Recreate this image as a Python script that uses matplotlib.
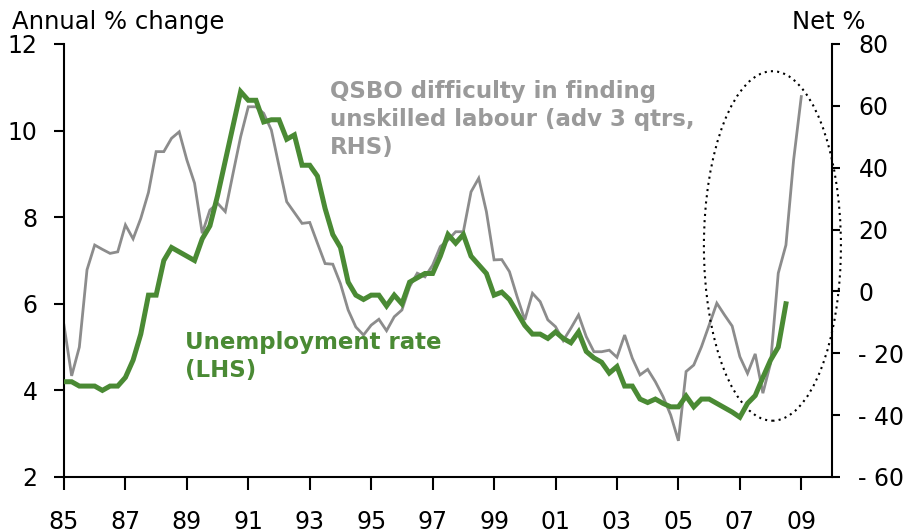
import numpy as np
import matplotlib.pyplot as plt
from matplotlib.patches import Ellipse

# quarterly data starting 1985 Q1
start_year = 1985.0

# unemployment rate, % (LHS)
unemp = [
    4.2, 4.2, 4.1, 4.1, 4.1, 4.0, 4.1, 4.1,
    4.3, 4.7, 5.3, 6.2, 6.2, 7.0, 7.3, 7.2,
    7.1, 7.0, 7.5, 7.8, 8.5, 9.3, 10.1, 10.9,
    10.7, 10.7, 10.2, 10.25, 10.25, 9.8, 9.9, 9.2,
    9.2, 8.95, 8.2, 7.6, 7.3, 6.5, 6.2, 6.1,
    6.2, 6.2, 5.95, 6.2, 6.0, 6.5, 6.6, 6.7,
    6.7, 7.1, 7.6, 7.4, 7.6, 7.1, 6.9, 6.7,
    6.2, 6.27, 6.1, 5.8, 5.5, 5.3, 5.3, 5.2,
    5.35, 5.2, 5.1, 5.35, 4.9, 4.75, 4.65, 4.4,
    4.55, 4.1, 4.1, 3.8, 3.72, 3.8, 3.7, 3.62,
    3.62, 3.87, 3.62, 3.8, 3.8, 3.7, 3.6, 3.5,
    3.38, 3.7, 3.88, 4.3, 4.7, 5.0, 6.0,
]

# QSBO difficulty in finding unskilled labour, net % (RHS, advanced 3 qtrs)
qsbo = [
    -10.9, -27.3, -18, 7, 15, 13.6, 12.3, 12.8,
    21.5, 17, 23.6, 32, 45.2, 45.2, 49.5, 51.6,
    42.5, 35, 18.8, 26.3, 28.5, 25.8, 38, 50,
    59.7, 59.7, 57.6, 52.2, 40.5, 29, 25.5, 22,
    22.3, 15.6, 9, 8.8, 2.5, -6, -11.5, -14.1,
    -10.9, -9, -12.7, -8.2, -6, 1.5, 5.9, 4.7,
    8.5, 14.5, 16.6, 19.3, 19.3, 32.2, 36.6, 25.8,
    10.2, 10.3, 6.4, -1.7, -9.2, -0.6, -3.3, -9.2,
    -11.4, -15.9, -11.9, -7.6, -14.6, -19.5, -19.5, -19.0,
    -21.3, -14.1, -21.6, -27, -25.2, -29.2, -34, -40,
    -48.3, -25.9, -23.8, -17.9, -10.9, -3.8, -7.6, -11.2,
    -21.1, -26.5, -20.2, -32.9, -23.2, 5.9, 15.0, 42.5,
    63.0,
]

xtick_years = [1985, 1987, 1989, 1991, 1993, 1995, 1997, 1999, 2001, 2003, 2005, 2007, 2009]
left_ticks = [2, 4, 6, 8, 10, 12]
right_ticks = [-60, -40, -20, 0, 20, 40, 60, 80]

green = '#4a8a34'
grey = '#8c8c8c'
grey_text = '#9a9a9a'

plt.rcParams['font.family'] = 'DejaVu Sans'

fig = plt.figure(figsize=(9.1, 5.3), dpi=100)
ax1 = fig.add_axes([0.0703, 0.1, 0.844, 0.817])
ax2 = ax1.twinx()

x_u = start_year + np.arange(len(unemp)) / 4
x_q = start_year + np.arange(len(qsbo)) / 4

ax2.plot(x_q, qsbo, color=grey, lw=2.0, solid_joinstyle='miter', zorder=2)
ax1.plot(x_u, unemp, color=green, lw=3.6, solid_joinstyle='miter', zorder=3)
ax1.set_zorder(ax2.get_zorder() + 1)
ax1.patch.set_visible(False)

ax1.set_xlim(1985, 2010)
ax1.set_ylim(2, 12)
ax2.set_ylim(-60, 80)

ax1.set_xticks(xtick_years)
ax1.set_xticklabels([str(y)[2:] for y in xtick_years])
ax1.set_yticks(left_ticks)
ax2.set_yticks(right_ticks)
ax2.set_yticklabels([('- %d' % -v) if v < 0 else str(v) for v in right_ticks])

for ax in (ax1, ax2):
    ax.spines['top'].set_visible(False)
    for s in ax.spines.values():
        s.set_linewidth(1.5)
ax1.spines['right'].set_visible(False)
ax2.spines['left'].set_visible(False)
ax2.spines['bottom'].set_visible(False)

ax1.tick_params(axis='x', direction='out', length=9, width=1.5, pad=15, labelsize=17)
ax1.tick_params(axis='y', direction='out', length=7, width=1.5, pad=12, labelsize=17)
ax2.tick_params(axis='y', direction='out', length=6, width=1.5, pad=13, labelsize=17)

fig.text(0.013, 0.945, 'Annual % change', fontsize=17.5, ha='left', va='baseline')
fig.text(0.951, 0.945, 'Net %', fontsize=17.5, ha='right', va='baseline')

ax1.text(1993.67, 10.25, 'QSBO difficulty in finding\nunskilled labour (adv 3 qtrs,\nRHS)',
         color=grey_text, fontsize=16.5, fontweight='bold', ha='left', va='center',
         linespacing=1.28)
ax1.text(1988.95, 4.78, 'Unemployment rate\n(LHS)', color=green, fontsize=16.5,
         fontweight='bold', ha='left', va='center', linespacing=1.28)

ell = Ellipse((2008.06, 14.7), width=4.46, height=113, fill=False, ls=(0, (1, 2)),
              lw=1.5, color='black', clip_on=False, zorder=4)
ax2.add_patch(ell)

plt.savefig('out.png', dpi=100)
